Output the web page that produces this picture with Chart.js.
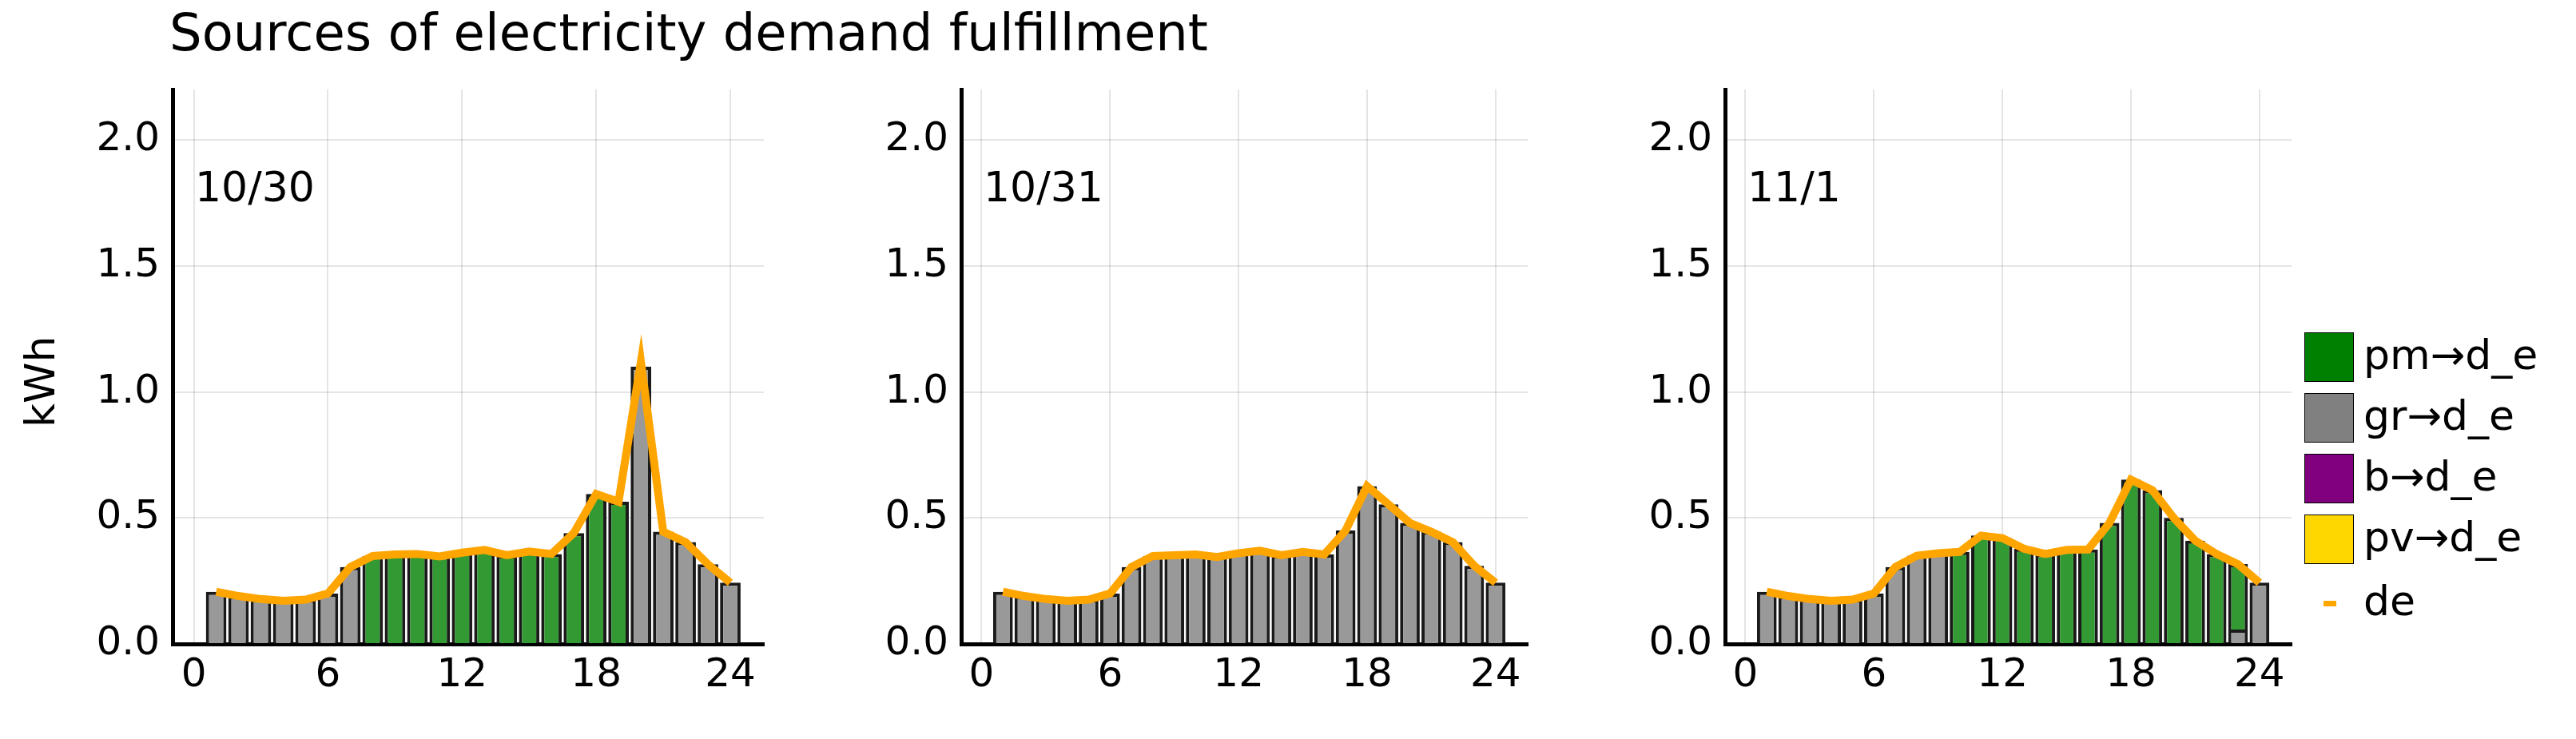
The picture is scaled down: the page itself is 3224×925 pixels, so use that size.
<!DOCTYPE html>
<html>
<head>
<meta charset="utf-8">
<script src="https://cdn.jsdelivr.net/npm/chart.js@4/dist/chart.umd.min.js"></script>
<style>
  body { margin: 0; width: 3224px; height: 925px; background: #fff; position: relative; overflow: hidden; font-family: "DejaVu Sans", sans-serif; }
  canvas { position: absolute; }
  .txt { position: absolute; color: #000; white-space: nowrap; }
  .box { position: absolute; width: 62px; height: 62px; border: 1px solid #000; box-sizing: border-box; }
</style>
</head>
<body>
<div class="txt" style="left:212px;top:4px;font-size:64px;">Sources of electricity demand fulfillment</div>
<div class="txt" style="left:0px;top:455px;font-size:52px;transform:rotate(-90deg);transform-origin:center;width:100px;text-align:center;">kWh</div>
<canvas id="c0"></canvas>
<canvas id="c1"></canvas>
<canvas id="c2"></canvas>

<div class="box" style="left:2884px;top:416px;background:#008000;"></div>
<div class="txt" style="left:2958px;top:414px;font-size:52px;">pm→d_e</div>
<div class="box" style="left:2884px;top:492px;background:#808080;"></div>
<div class="txt" style="left:2958px;top:490px;font-size:52px;">gr→d_e</div>
<div class="box" style="left:2884px;top:568px;background:#800080;"></div>
<div class="txt" style="left:2958px;top:566px;font-size:52px;">b→d_e</div>
<div class="box" style="left:2884px;top:644px;background:#FFD700;"></div>
<div class="txt" style="left:2958px;top:642px;font-size:52px;">pv→d_e</div>
<div style="position:absolute;left:2908px;top:752px;width:16px;height:7px;background:#FFA500;"></div>
<div class="txt" style="left:2958px;top:722px;font-size:52px;">de</div>

<script>
const hours = [1,2,3,4,5,6,7,8,9,10,11,12,13,14,15,16,17,18,19,20,21,22,23,24];
const dayLabels = ['10/30', '10/31', '11/1'];
const xTicks = [0, 6, 12, 18, 24];
const yTicks = [0, 0.5, 1.0, 1.5, 2.0];

// demand (de) per day
const de1030 = [0.207,0.19,0.178,0.171,0.176,0.20,0.305,0.349,0.355,0.357,0.347,0.362,0.373,0.352,0.367,0.357,0.44,0.595,0.564,1.12,0.445,0.404,0.316,0.243];
const de1031 = [0.207,0.19,0.178,0.171,0.176,0.20,0.305,0.349,0.352,0.355,0.345,0.36,0.37,0.352,0.365,0.355,0.45,0.626,0.554,0.48,0.445,0.404,0.31,0.243];
const de1101 = [0.207,0.19,0.178,0.171,0.176,0.20,0.305,0.35,0.36,0.365,0.43,0.42,0.378,0.357,0.373,0.375,0.48,0.652,0.61,0.50,0.41,0.357,0.316,0.243];

// pm->d_e per day
const pm1030 = [0,0,0,0,0,0,0,0.349,0.355,0.357,0.347,0.362,0.373,0.352,0.367,0.357,0.44,0.595,0.564,0,0,0,0,0];
const pm1031 = [0,0,0,0,0,0,0,0,0,0,0,0,0,0,0,0,0,0,0,0,0,0,0,0];
const pm1101 = [0,0,0,0,0,0,0,0,0,0.365,0.43,0.42,0.378,0.357,0.373,0.375,0.48,0.652,0.61,0.50,0.41,0.357,0.26,0];

// gr->d_e per day
const gr1030 = [0.207,0.19,0.178,0.171,0.176,0.20,0.305,0,0,0,0,0,0,0,0,0,0,0,0,1.10,0.445,0.404,0.316,0.243];
const gr1031 = de1031.slice();
const gr1101 = [0.207,0.19,0.178,0.171,0.176,0.20,0.305,0.35,0.36,0,0,0,0,0,0,0,0,0,0,0,0,0,0.057,0.243];

const days = [
  { de: de1030, pm: pm1030, gr: gr1030 },
  { de: de1031, pm: pm1031, gr: gr1031 },
  { de: de1101, pm: pm1101, gr: gr1101 }
];

const plotLeft = [216, 1203, 2159];
const plotRight = [956, 1912, 2868];
const yAxisW = 156;
const top0 = 66, bottom0 = 806, xAxisH = 110;

const pts = arr => hours.map((h, i) => ({ x: h, y: arr[i] }));

const labelPlugin = {
  id: 'dayLabel',
  afterDraw(chart, args, opts) {
    const { ctx, chartArea } = chart;
    ctx.save();
    ctx.font = '52px "DejaVu Sans"';
    ctx.fillStyle = '#000';
    ctx.textBaseline = 'middle';
    ctx.fillText(opts.text, chartArea.left + 28, chart.scales.y.getPixelForValue(1.8));
    ctx.restore();
  }
};

days.forEach((d, k) => {
  const cv = document.getElementById('c' + k);
  const left = plotLeft[k] - yAxisW;
  const w = plotRight[k] - left + 30;
  const h = bottom0 - top0 + xAxisH;
  cv.width = w; cv.height = h;
  cv.style.left = left + 'px'; cv.style.top = top0 + 'px';
  cv.style.width = w + 'px'; cv.style.height = h + 'px';

  new Chart(cv.getContext('2d'), {
    type: 'bar',
    data: {
      datasets: [
        { label: 'gr→d_e', data: pts(d.gr), backgroundColor: '#999999', borderColor: '#1a1a1a', borderWidth: 4, stack: 'bars', barPercentage: 0.92, categoryPercentage: 1.0, order: 2 },
        { label: 'pm→d_e', data: pts(d.pm), backgroundColor: '#339933', borderColor: '#1a1a1a', borderWidth: 4, stack: 'bars', barPercentage: 0.92, categoryPercentage: 1.0, order: 2 },
        { type: 'line', label: 'de', data: pts(d.de), borderColor: '#FFA500', borderWidth: 10, pointRadius: 0, stack: 'de', tension: 0, order: 1 }
      ]
    },
    options: {
      responsive: false,
      animation: false,
      devicePixelRatio: 1,
      layout: { padding: { top: 0, right: 30, bottom: 0, left: 0 } },
      plugins: { legend: { display: false }, tooltip: { enabled: false }, dayLabel: { text: dayLabels[k] } },
      scales: {
        x: {
          type: 'linear', stacked: true, offset: false, min: -0.95, max: 25.5,
          afterBuildTicks: s => { s.ticks = xTicks.map(v => ({ value: v })); },
          afterFit: s => { s.height = xAxisH; },
          ticks: { font: { size: 50, family: 'DejaVu Sans' }, color: '#000', padding: 10 },
          grid: { color: 'rgba(0,0,0,0.1)', lineWidth: 2, drawTicks: false, offset: false },
          border: { color: '#000', width: 5 }
        },
        y: {
          stacked: true, min: 0, max: 2.2,
          afterBuildTicks: s => { s.ticks = yTicks.map(v => ({ value: v })); },
          afterFit: s => { s.width = yAxisW; },
          ticks: { font: { size: 50, family: 'DejaVu Sans' }, color: '#000', padding: 16, callback: v => v.toFixed(1) },
          grid: { color: 'rgba(0,0,0,0.1)', lineWidth: 2, drawTicks: false },
          border: { color: '#000', width: 5 }
        }
      }
    },
    plugins: [labelPlugin]
  });
});
</script>
</body>
</html>
